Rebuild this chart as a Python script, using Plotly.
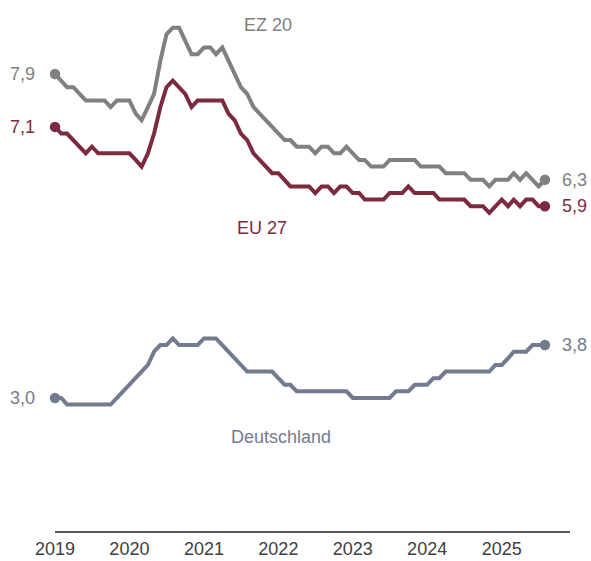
import pandas as pd
import plotly.graph_objects as go

# Monthly data, Jan 2019 - Aug 2025
months = pd.date_range("2019-01-01", "2025-08-01", freq="MS")

ez20 = [7.9, 7.8, 7.7, 7.7, 7.6, 7.5, 7.5, 7.5, 7.5, 7.4, 7.5, 7.5,
        7.5, 7.3, 7.2, 7.4, 7.6, 8.1, 8.5, 8.6, 8.6, 8.4, 8.2, 8.2,
        8.3, 8.3, 8.2, 8.3, 8.1, 7.9, 7.7, 7.6, 7.4, 7.3, 7.2, 7.1,
        7.0, 6.9, 6.9, 6.8, 6.8, 6.8, 6.7, 6.8, 6.8, 6.7, 6.7, 6.8,
        6.7, 6.6, 6.6, 6.5, 6.5, 6.5, 6.6, 6.6, 6.6, 6.6, 6.6, 6.5,
        6.5, 6.5, 6.5, 6.4, 6.4, 6.4, 6.4, 6.3, 6.3, 6.3, 6.2, 6.3,
        6.3, 6.3, 6.4, 6.3, 6.4, 6.3, 6.2, 6.3]

eu27 = [7.1, 7.0, 7.0, 6.9, 6.8, 6.7, 6.8, 6.7, 6.7, 6.7, 6.7, 6.7,
        6.7, 6.6, 6.5, 6.7, 7.0, 7.4, 7.7, 7.8, 7.7, 7.6, 7.4, 7.5,
        7.5, 7.5, 7.5, 7.5, 7.3, 7.2, 7.0, 6.9, 6.7, 6.6, 6.5, 6.4,
        6.4, 6.3, 6.2, 6.2, 6.2, 6.2, 6.1, 6.2, 6.2, 6.1, 6.2, 6.2,
        6.1, 6.1, 6.0, 6.0, 6.0, 6.0, 6.1, 6.1, 6.1, 6.2, 6.1, 6.1,
        6.1, 6.1, 6.0, 6.0, 6.0, 6.0, 6.0, 5.9, 5.9, 5.9, 5.8, 5.9,
        6.0, 5.9, 6.0, 5.9, 6.0, 6.0, 5.9, 5.9]

deutschland = [3.0, 3.0, 2.9, 2.9, 2.9, 2.9, 2.9, 2.9, 2.9, 2.9, 3.0, 3.1,
               3.2, 3.3, 3.4, 3.5, 3.7, 3.8, 3.8, 3.9, 3.8, 3.8, 3.8, 3.8,
               3.9, 3.9, 3.9, 3.8, 3.7, 3.6, 3.5, 3.4, 3.4, 3.4, 3.4, 3.4,
               3.3, 3.2, 3.2, 3.1, 3.1, 3.1, 3.1, 3.1, 3.1, 3.1, 3.1, 3.1,
               3.0, 3.0, 3.0, 3.0, 3.0, 3.0, 3.0, 3.1, 3.1, 3.1, 3.2, 3.2,
               3.2, 3.3, 3.3, 3.4, 3.4, 3.4, 3.4, 3.4, 3.4, 3.4, 3.4, 3.5,
               3.5, 3.6, 3.7, 3.7, 3.7, 3.8, 3.8, 3.8]

series_names = ["EZ 20", "EU 27", "Deutschland"]
tick_years = ["2019", "2020", "2021", "2022", "2023", "2024", "2025"]

colors = {"EZ 20": "#808080", "EU 27": "#7c2b3f", "Deutschland": "#737b8f"}
values = {"EZ 20": ez20, "EU 27": eu27, "Deutschland": deutschland}
# name-label positions (date, value)
name_pos = {"EZ 20": ("2021-11-11", 8.64),
            "EU 27": ("2021-10-12", 5.57),
            "Deutschland": ("2022-01-14", 2.41)}

FONT = "Liberation Sans, Arial, sans-serif"

def fmt(v):
    return f"{v:.1f}".replace(".", ",")

fig = go.Figure()
annotations = []
for name in series_names:
    vals = values[name]
    c = colors[name]
    fig.add_trace(go.Scatter(x=months, y=vals, mode="lines",
                             line=dict(color=c, width=4), cliponaxis=False,
                             showlegend=False, hoverinfo="skip"))
    fig.add_trace(go.Scatter(x=[months[0], months[-1]], y=[vals[0], vals[-1]],
                             mode="markers", marker=dict(color=c, size=10.5),
                             cliponaxis=False,
                             showlegend=False, hoverinfo="skip"))
    annotations.append(dict(x=months[0], y=vals[0], xref="x", yref="y",
                            text=fmt(vals[0]), showarrow=False,
                            xanchor="right", yanchor="middle", xshift=-18,
                            font=dict(family=FONT, size=18, color=c)))
    annotations.append(dict(x=months[-1], y=vals[-1], xref="x", yref="y",
                            text=fmt(vals[-1]), showarrow=False,
                            xanchor="left", yanchor="middle", xshift=15,
                            font=dict(family=FONT, size=18, color=c)))
    nx, ny = name_pos[name]
    annotations.append(dict(x=nx, y=ny, xref="x", yref="y", text=name,
                            showarrow=False, xanchor="center", yanchor="middle",
                            font=dict(family=FONT, size=18, color=c)))

fig.update_layout(
    width=591, height=561,
    margin=dict(l=55, r=21, t=10, b=30, autoexpand=False),
    paper_bgcolor="white", plot_bgcolor="white",
    annotations=annotations,
    xaxis=dict(type="date", range=["2019-01-01", "2025-12-02"],
               tickvals=[f"{y}-01-01" for y in tick_years], ticktext=tick_years,
               showgrid=False, zeroline=False, showline=True, automargin=False,
               linecolor="#595959", linewidth=1.5,
               ticks="outside", ticklen=1, tickcolor="rgba(0,0,0,0)",
               tickfont=dict(family=FONT, size=18, color="#404040")),
    yaxis=dict(range=[0.988, 8.868], visible=False, showgrid=False,
               zeroline=False, automargin=False),
)

fig.write_html("out.html", config={"displayModeBar": False},
               post_script="document.body.style.margin='0';"
                           "document.body.style.overflow='hidden';")
